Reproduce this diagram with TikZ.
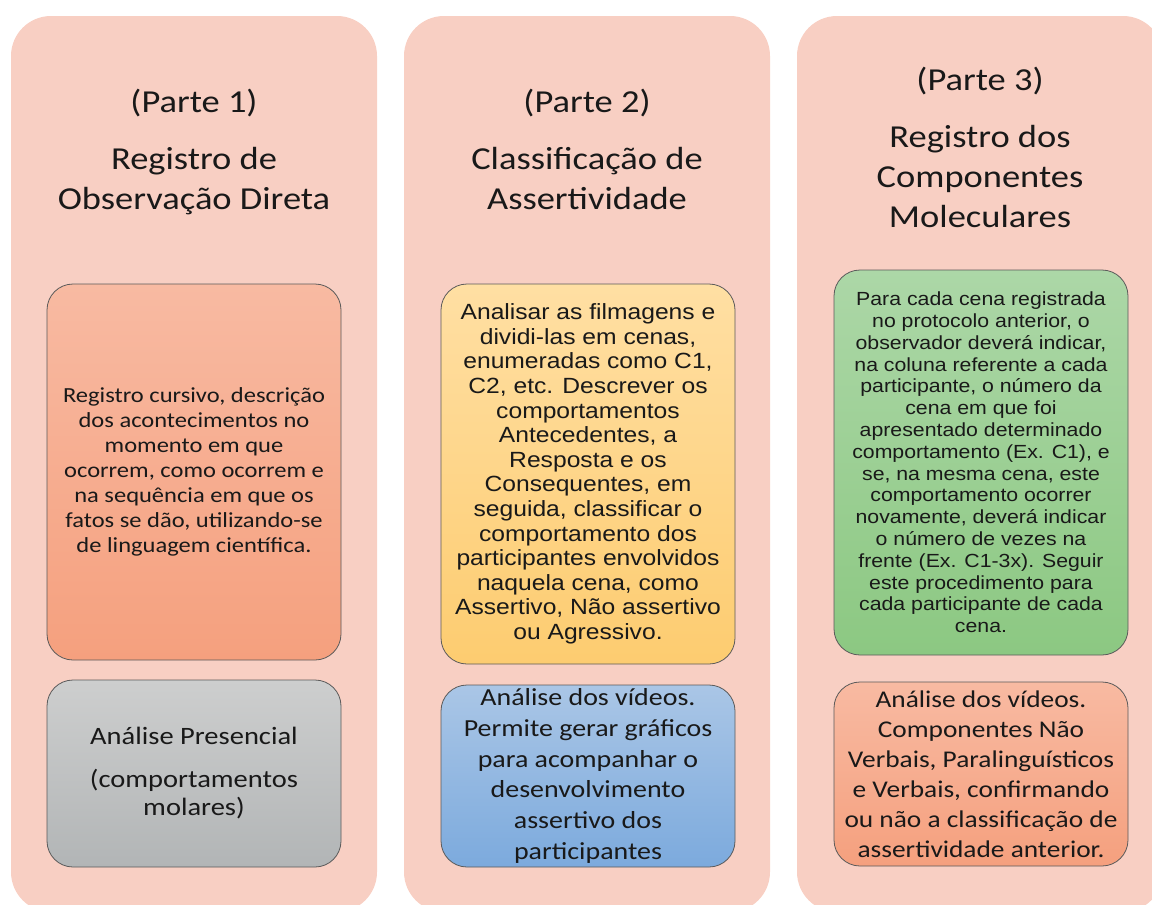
\documentclass[tikz,border=0pt]{standalone}
\usepackage{fontspec}
\setmainfont{Carlito}[FakeStretch=1.14]
\newfontfamily\arialx{Liberation Sans}[FakeStretch=1.12]
\usepackage{xcolor}
\usepackage{tikz}
\usetikzlibrary{positioning}
\definecolor{panelc}{RGB}{248,207,195}
\definecolor{edgec}{RGB}{90,90,90}
\definecolor{textc}{RGB}{25,25,25}
\definecolor{salmontop}{RGB}{248,186,162}
\definecolor{salmonbot}{RGB}{245,160,126}
\definecolor{greytop}{RGB}{205,206,206}
\definecolor{greybot}{RGB}{178,181,182}
\definecolor{yellowtop}{RGB}{255,223,163}
\definecolor{yellowbot}{RGB}{253,204,112}
\definecolor{bluetop}{RGB}{170,198,230}
\definecolor{bluebot}{RGB}{124,170,221}
\definecolor{greentop}{RGB}{172,215,167}
\definecolor{greenbot}{RGB}{140,200,130}

\begin{document}
\begin{tikzpicture}[x=1pt, y=-1pt]
	\tikzstyle{panel}=[rectangle, rounded corners=40pt, fill=panelc, minimum width=366pt, minimum height=896pt, inner sep=0pt]
	\tikzstyle{infobox}=[rectangle, rounded corners=26pt, draw=edgec, line width=0.8pt, minimum width=294pt, inner sep=0pt, align=center, text=textc]
	\tikzstyle{heading}=[align=center, text=textc, inner sep=0pt, font=\fontsize{32}{40}\selectfont]

	\useasboundingbox (0,0) rectangle (1152,905);
	\clip (0,0) rectangle (1152,905);

	\foreach \x in {0,...,2}{
		\node[panel] (panel\x) at (194 + 393*\x, 464) {};
	}

	\foreach \x/\n/\yb in {0/1/112, 1/2/112, 2/3/90}{
		\node[heading, anchor=base] (part\x) at (194 + 393*\x, \yb) {(Parte \n)};
	}

	\node[heading, below=30pt of part0] (title0) {Registro de\\Observação Direta};
	\node[heading, below=30pt of part1] (title1) {Classificação de\\Assertividade};
	\node[heading, below=30pt of part2] (title2) {Registro dos\\Componentes\\Moleculares};

	% parte 1
	\node[infobox, top color=salmontop, bottom color=salmonbot, minimum height=376pt, font=\fontsize{21.5}{25}\selectfont] (cursivo) at (194, 472) {Registro cursivo, descrição\\dos acontecimentos no\\momento em que\\ocorrem, como ocorrem e\\na sequência em que os\\fatos se dão, utilizando-se\\de linguagem científica.};
	\node[infobox, top color=greytop, bottom color=greybot, minimum height=187pt, font=\fontsize{25}{28}\selectfont] (presencial) at (194, 773.5) {Análise Presencial\\[15pt](comportamentos\\molares)};

	% parte 2
	\node[infobox, top color=yellowtop, bottom color=yellowbot, minimum height=380pt, font=\arialx\fontsize{22}{24.6}\selectfont] (filmagens) at (588, 474) {Analisar as filmagens e\\dividi-las em cenas,\\enumeradas como C1,\\C2, etc. Descrever os\\comportamentos\\Antecedentes, a\\Resposta e os\\Consequentes, em\\seguida, classificar o\\comportamento dos\\participantes envolvidos\\naquela cena, como\\Assertivo, Não assertivo\\ou Agressivo.};
	\node[infobox, top color=bluetop, bottom color=bluebot, minimum height=182pt, font=\fontsize{24.5}{30.7}\selectfont] (graficos) at (588, 776) {Análise dos vídeos.\\Permite gerar gráficos\\para acompanhar o\\desenvolvimento\\assertivo dos\\participantes};

	% parte 3
	\node[infobox, top color=greentop, bottom color=greenbot, minimum height=385pt, font=\arialx\fontsize{19}{21.8}\selectfont] (protocolo) at (981, 462.5) {Para cada cena registrada\\no protocolo anterior, o\\observador deverá indicar,\\na coluna referente a cada\\participante, o número da\\cena em que foi\\apresentado determinado\\comportamento (Ex. C1), e\\se, na mesma cena, este\\comportamento ocorrer\\novamente, deverá indicar\\o número de vezes na\\frente (Ex. C1-3x). Seguir\\este procedimento para\\cada participante de cada\\cena.};
	\node[infobox, top color=salmontop, bottom color=salmonbot, minimum height=184pt, font=\fontsize{24}{30}\selectfont] (verbais) at (981, 774) {Análise dos vídeos.\\Componentes Não\\Verbais, Paralinguísticos\\e Verbais, confirmando\\ou não a classificação de\\assertividade anterior.};
\end{tikzpicture}
\end{document}
